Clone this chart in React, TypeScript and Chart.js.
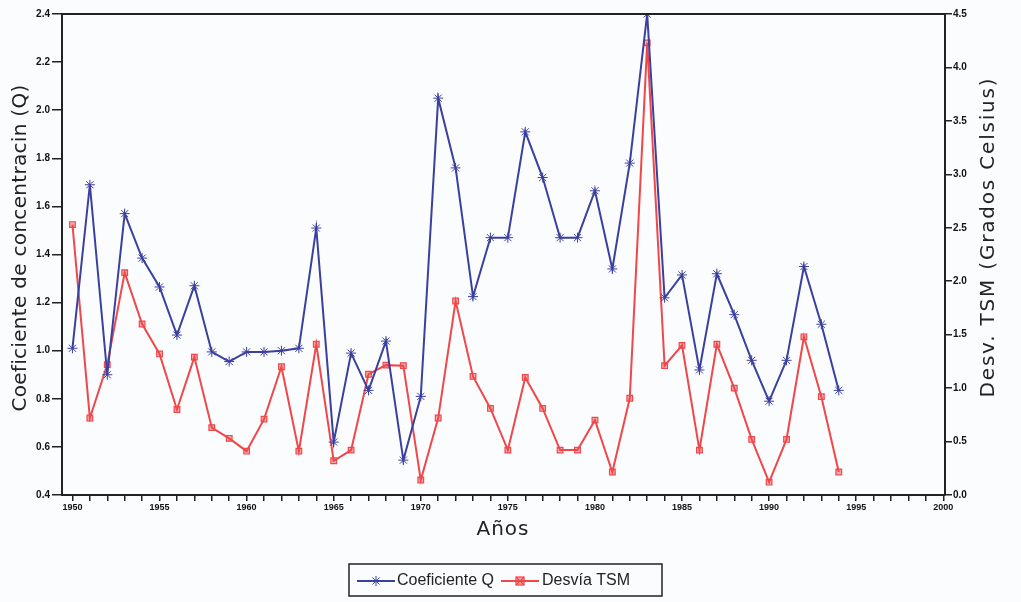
import React, { useEffect, useRef } from "react";
import { Chart, registerables } from "chart.js";

Chart.register(...registerables);

const years = [
  1950, 1951, 1952, 1953, 1954, 1955, 1956, 1957, 1958, 1959,
  1960, 1961, 1962, 1963, 1964, 1965, 1966, 1967, 1968, 1969,
  1970, 1971, 1972, 1973, 1974, 1975, 1976, 1977, 1978, 1979,
  1980, 1981, 1982, 1983, 1984, 1985, 1986, 1987, 1988, 1989,
  1990, 1991, 1992, 1993, 1994,
];

const coefQ = [
  1.01, 1.69, 0.9, 1.57, 1.385, 1.265, 1.065, 1.27, 0.995, 0.955,
  0.995, 0.995, 1.0, 1.01, 1.51, 0.62, 0.99, 0.835, 1.04, 0.545,
  0.81, 2.05, 1.76, 1.225, 1.47, 1.47, 1.91, 1.72, 1.47, 1.47,
  1.665, 1.34, 1.78, 2.4, 1.22, 1.315, 0.92, 1.32, 1.15, 0.96,
  0.79, 0.96, 1.35, 1.11, 0.835,
];

const desvTSM = [
  2.53, 0.72, 1.22, 2.08, 1.6, 1.32, 0.8, 1.29, 0.63, 0.53,
  0.41, 0.71, 1.2, 0.41, 1.41, 0.32, 0.42, 1.13, 1.215, 1.21,
  0.14, 0.72, 1.815, 1.11, 0.81, 0.42, 1.1, 0.81, 0.42, 0.42,
  0.7, 0.215, 0.905, 4.23, 1.21, 1.4, 0.42, 1.41, 1.0, 0.52,
  0.12, 0.52, 1.48, 0.92, 0.215,
];

const xTickYears = [
  1950, 1951, 1952, 1953, 1954, 1955, 1956, 1957, 1958, 1959, 1960, 1961, 1962,
  1963, 1964, 1965, 1966, 1967, 1968, 1969, 1970, 1971, 1972, 1973, 1974, 1975,
  1976, 1977, 1978, 1979, 1980, 1981, 1982, 1983, 1984, 1985, 1986, 1987, 1988,
  1989, 1990, 1991, 1992, 1993, 1994, 1995, 1996, 1997, 1998, 1999, 2000,
];

const leftTitle = "Coeficiente de concentracin (Q)";
const rightTitle = "Desv. TSM (Grados Celsius)";
const xTitle = "Años";
const seriesNames = ["Coeficiente Q", "Desvía TSM"];

const BLUE = "#3b3f9e";
const RED = "#f0474a";

function drawStar(ctx: CanvasRenderingContext2D, x: number, y: number, r: number, color: string) {
  ctx.save();
  ctx.strokeStyle = color;
  ctx.lineWidth = 1;
  ctx.beginPath();
  for (let i = 0; i < 4; i++) {
    const a = (Math.PI / 4) * i;
    ctx.moveTo(x - r * Math.cos(a), y - r * Math.sin(a));
    ctx.lineTo(x + r * Math.cos(a), y + r * Math.sin(a));
  }
  ctx.stroke();
  ctx.restore();
}

function drawSquare(ctx: CanvasRenderingContext2D, x: number, y: number, r: number, color: string) {
  ctx.save();
  ctx.fillStyle = "rgba(240,71,74,0.45)";
  ctx.strokeStyle = color;
  ctx.lineWidth = 1.2;
  ctx.fillRect(x - r, y - r, 2 * r, 2 * r);
  ctx.strokeRect(x - r, y - r, 2 * r, 2 * r);
  ctx.beginPath();
  ctx.moveTo(x - r, y - r);
  ctx.lineTo(x + r, y + r);
  ctx.moveTo(x + r, y - r);
  ctx.lineTo(x - r, y + r);
  ctx.stroke();
  ctx.restore();
}

function spacedRotatedText(
  ctx: CanvasRenderingContext2D,
  text: string,
  cx: number,
  cy: number,
  targetLen: number,
  font: string
) {
  ctx.save();
  ctx.font = font;
  const w = ctx.measureText(text).width;
  const extra = Math.max(0, (targetLen - w) / (text.length - 1));
  (ctx as any).letterSpacing = extra.toFixed(2) + "px";
  const w2 = ctx.measureText(text).width;
  ctx.translate(cx, cy);
  ctx.rotate(-Math.PI / 2);
  ctx.fillStyle = "#222";
  ctx.textAlign = "left";
  ctx.textBaseline = "middle";
  ctx.fillText(text, -w2 / 2, 0);
  ctx.restore();
}

const decorPlugin = {
  id: "decor",
  afterDraw(chart: any) {
    const ctx: CanvasRenderingContext2D = chart.ctx;
    const a = chart.chartArea;
    ctx.save();
    ctx.strokeStyle = "#222";
    ctx.lineWidth = 2;
    ctx.beginPath();
    ctx.moveTo(a.left, a.top);
    ctx.lineTo(a.right, a.top);
    ctx.stroke();

    const font = '20px "DejaVu Sans", sans-serif';
    spacedRotatedText(ctx, leftTitle, 21, 248, 327, font);
    spacedRotatedText(ctx, rightTitle, 989, 237, 319, font);

    ctx.font = '20px "DejaVu Sans", sans-serif';
    ctx.fillStyle = "#222";
    ctx.textAlign = "center";
    ctx.textBaseline = "middle";
    (ctx as any).letterSpacing = "1px";
    ctx.fillText(xTitle, 503, 530);
    (ctx as any).letterSpacing = "0px";

    ctx.strokeStyle = "#222";
    ctx.lineWidth = 1.5;
    ctx.strokeRect(349, 564, 313, 32);
    const ly = 581;
    ctx.lineWidth = 2;
    ctx.strokeStyle = BLUE;
    ctx.beginPath();
    ctx.moveTo(357, ly);
    ctx.lineTo(395, ly);
    ctx.stroke();
    drawStar(ctx, 376, ly, 5, BLUE);
    ctx.strokeStyle = RED;
    ctx.beginPath();
    ctx.moveTo(501, ly);
    ctx.lineTo(539, ly);
    ctx.stroke();
    drawSquare(ctx, 520, ly, 4, RED);
    ctx.font = '16px "Liberation Sans", Arial, sans-serif';
    ctx.fillStyle = "#222";
    ctx.textAlign = "left";
    ctx.textBaseline = "middle";
    ctx.fillText(seriesNames[0], 397, ly);
    ctx.fillText(seriesNames[1], 542, ly);
    ctx.restore();
  },
};

export default function App() {
  const ref = useRef<HTMLCanvasElement | null>(null);

  useEffect(() => {
    if (!ref.current) return;
    const tickFont = { family: '"Liberation Sans", Arial, sans-serif', size: 10, weight: "bold" as const };
    const chart = new Chart(ref.current, {
      type: "line",
      data: {
        datasets: [
          {
            label: seriesNames[0],
            data: years.map((y, i) => ({ x: y, y: coefQ[i] })),
            yAxisID: "yL",
            borderColor: BLUE,
            backgroundColor: BLUE,
            borderWidth: 2,
            pointStyle: "star",
            pointRadius: 5,
            pointBorderWidth: 1,
            pointBorderColor: BLUE,
            tension: 0,
          },
          {
            label: seriesNames[1],
            data: years.map((y, i) => ({ x: y, y: desvTSM[i] })),
            yAxisID: "yR",
            borderColor: RED,
            backgroundColor: "rgba(240,71,74,0.45)",
            borderWidth: 2,
            pointStyle: "rect",
            pointRadius: 4,
            pointBorderWidth: 1.2,
            pointBorderColor: RED,
            tension: 0,
          },
        ],
      },
      options: {
        animation: false,
        responsive: false,
        layout: { padding: { top: 14, left: 0, right: 0, bottom: 0 } },
        plugins: { legend: { display: false }, tooltip: { enabled: false } },
        scales: {
          x: {
            type: "linear",
            min: 1949.4,
            max: 2000.1,
            afterBuildTicks: (scale: any) => {
              scale.ticks = xTickYears.map((v) => ({ value: v }));
            },
            afterFit: (scale: any) => {
              scale.height = 107;
            },
            ticks: {
              autoSkip: false,
              maxRotation: 0,
              padding: 1,
              color: "#111",
              font: { ...tickFont, size: 9 },
              callback: (v: any) => (Number(v) % 5 === 0 ? String(v) : ""),
            },
            grid: { display: true, drawOnChartArea: false, drawTicks: true, tickLength: 6, color: "#222", lineWidth: 1.5 },
            border: { display: true, color: "#222", width: 2 },
          },
          yL: {
            type: "linear",
            position: "left",
            min: 0.4,
            max: 2.4,
            afterFit: (scale: any) => {
              scale.width = 62;
            },
            ticks: {
              stepSize: 0.2,
              padding: 2,
              color: "#111",
              font: tickFont,
              callback: (v: any) => Number(v).toFixed(1),
            },
            grid: { display: true, drawOnChartArea: false, drawTicks: true, tickLength: 10, color: "#222", lineWidth: 1.5 },
            border: { display: true, color: "#222", width: 2 },
          },
          yR: {
            type: "linear",
            position: "right",
            min: 0,
            max: 4.5,
            afterFit: (scale: any) => {
              scale.width = 76;
            },
            ticks: {
              stepSize: 0.5,
              padding: 1,
              color: "#111",
              font: tickFont,
              callback: (v: any) => Number(v).toFixed(1),
            },
            grid: { display: true, drawOnChartArea: false, drawTicks: true, tickLength: 7, color: "#222", lineWidth: 1.5 },
            border: { display: true, color: "#222", width: 2 },
          },
        },
      },
      plugins: [decorPlugin],
    });
    return () => chart.destroy();
  }, []);

  return (
    <div style={{ position: "absolute", left: 0, top: 0, width: 1021, height: 602, background: "#fbfcfd" }}>
      <canvas ref={ref} width={1021} height={602} style={{ display: "block" }} />
    </div>
  );
}
